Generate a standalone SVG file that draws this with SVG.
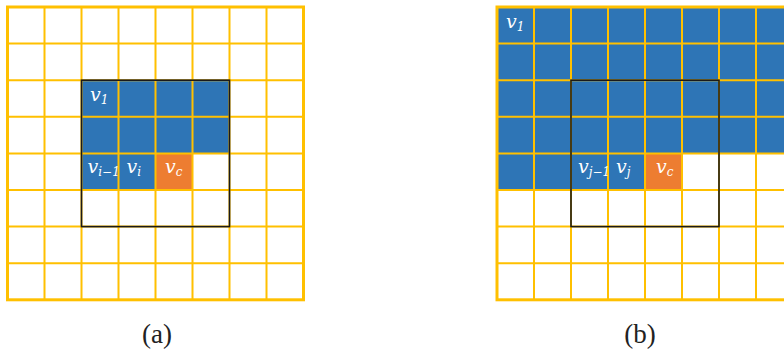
<svg xmlns="http://www.w3.org/2000/svg" width="784" height="354" viewBox="0 0 784 354">
<style>
.blue{fill:#2E75B6}
.orange{fill:#ED7D31}
.grid{stroke:#FFC000;stroke-width:2;fill:none}
.border{stroke:#FFC000;stroke-width:3;fill:none}
.box{stroke:#1A1A1A;stroke-width:1.6;fill:none}
.lbl{font-family:'DejaVu Serif',serif;font-style:italic;fill:#FFFFFF;font-size:19px}
.sub{font-size:12px}
.cap{font-family:'Liberation Serif',serif;font-size:27px;fill:#222;text-anchor:middle}
</style>
<g id="grid-a">
<rect x="7.5" y="7" width="296" height="292.8" fill="#FFFFFF"/>
<rect class="blue" x="81.5" y="80.2" width="148" height="73.2"/>
<rect class="blue" x="81.5" y="153.4" width="74" height="36.6"/>
<rect class="orange" x="155.5" y="153.4" width="37" height="36.6"/>
<path class="grid" d="M44.5 7V299.8M81.5 7V299.8M118.5 7V299.8M155.5 7V299.8M192.5 7V299.8M229.5 7V299.8M266.5 7V299.8M7.5 43.6H303.5M7.5 80.2H303.5M7.5 116.8H303.5M7.5 153.4H303.5M7.5 190H303.5M7.5 226.6H303.5M7.5 263.2H303.5"/>
<rect class="border" x="7.5" y="7" width="296" height="292.8"/>
<rect class="box" x="81.5" y="80.2" width="148" height="146.4"/>
</g>
<g id="labels-a">
<text class="lbl" x="90" y="101">v<tspan class="sub" dy="3">1</tspan></text>
<text class="lbl" x="87.5" y="173">v<tspan class="sub" dy="3">i−1</tspan></text>
<text class="lbl" x="126.5" y="173">v<tspan class="sub" dy="3">i</tspan></text>
<text class="lbl" x="165" y="173">v<tspan class="sub" dy="3">c</tspan></text>
</g>
<g id="grid-b">
<rect x="497" y="7" width="296" height="292.8" fill="#FFFFFF"/>
<rect class="blue" x="497" y="7" width="296" height="146.4"/>
<rect class="blue" x="497" y="153.4" width="148" height="36.6"/>
<rect class="orange" x="645" y="153.4" width="37" height="36.6"/>
<path class="grid" d="M534 7V299.8M571 7V299.8M608 7V299.8M645 7V299.8M682 7V299.8M719 7V299.8M756 7V299.8M497 43.6H793M497 80.2H793M497 116.8H793M497 153.4H793M497 190H793M497 226.6H793M497 263.2H793"/>
<rect class="border" x="497" y="7" width="296" height="292.8"/>
<rect class="box" x="571" y="80.2" width="148" height="146.4"/>
</g>
<g id="labels-b">
<text class="lbl" x="506" y="28">v<tspan class="sub" dy="3">1</tspan></text>
<text class="lbl" x="578" y="173">v<tspan class="sub" dy="3">j−1</tspan></text>
<text class="lbl" x="616" y="173">v<tspan class="sub" dy="3">j</tspan></text>
<text class="lbl" x="656" y="173">v<tspan class="sub" dy="3">c</tspan></text>
</g>
<g id="captions">
<text class="cap" x="157" y="343">(a)</text>
<text class="cap" x="640" y="343">(b)</text>
</g>
</svg>
